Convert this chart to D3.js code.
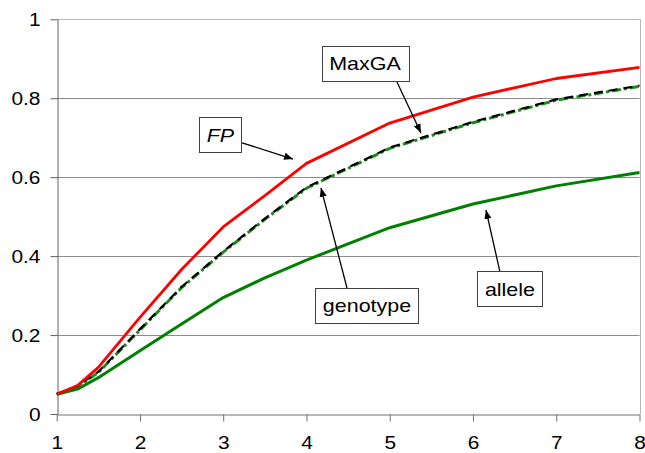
<!DOCTYPE html>
<html><head><meta charset="utf-8">
<script src="https://cdn.jsdelivr.net/npm/d3@7"></script>
<style>html,body{margin:0;padding:0;background:#fff;overflow:hidden}</style>
</head><body>
<svg id="c" width="645" height="453"></svg>
<script>
// ---- data ----
const xs       = [1, 1.25, 1.5, 2, 2.5, 3, 3.5, 4, 5, 6, 7, 8];
const fp       = [0.05, 0.072, 0.118, 0.245, 0.366, 0.474, 0.553, 0.635, 0.737, 0.803, 0.85, 0.878];
const maxga    = [0.05, 0.071, 0.107, 0.215, 0.322, 0.412, 0.495, 0.574, 0.675, 0.740, 0.797, 0.832];
const genotype = [0.05, 0.070, 0.105, 0.213, 0.320, 0.410, 0.493, 0.572, 0.673, 0.738, 0.795, 0.830];
const allele   = [0.05, 0.063, 0.092, 0.160, 0.228, 0.295, 0.345, 0.390, 0.472, 0.532, 0.578, 0.612];
const xTicks = [1, 2, 3, 4, 5, 6, 7, 8];
const yTicks = [0, 0.2, 0.4, 0.6, 0.8, 1];
// annotations: label, box centre (data), arrow tail (data), arrow tip (data)
const annLabels = ["FP", "MaxGA", "genotype", "allele"];
const annBox    = [[2.967, 0.708], [4.703, 0.889], [4.727, 0.275], [6.444, 0.317]];
const annTail   = [[3.226, 0.687], [5.087, 0.841], [4.487, 0.319], [6.324, 0.360]];
const annTip    = [[3.838, 0.646], [5.375, 0.712], [4.174, 0.573], [6.156, 0.517]];

// ---- chart ----
const svg = d3.select("#c");
const x = d3.scaleLinear().domain([1, 8]).range([56.7, 639.5]);
const y = d3.scaleLinear().domain([0, 1]).range([414, 19.3]);
const FONT = "'Liberation Sans', Arial, sans-serif";
const SX = 1.13; // horizontal stretch of the reference text

// grid lines
svg.append("g").selectAll("line").data(yTicks.filter(d => d > 0)).join("line")
  .attr("x1", x(1)).attr("x2", x(8))
  .attr("y1", d => Math.round(y(d)) + 0.5).attr("y2", d => Math.round(y(d)) + 0.5)
  .attr("stroke", d => d === 1 ? "#b8b8b8" : "#8c8c8c").attr("stroke-width", 1);
// right border
svg.append("line").attr("x1", Math.round(x(8)) + 0.5).attr("x2", Math.round(x(8)) + 0.5)
  .attr("y1", y(1)).attr("y2", y(0)).attr("stroke", "#b8b8b8");

// axes
const xAxis = d3.axisBottom(x).tickValues(xTicks).tickSize(7).tickSizeOuter(0).tickFormat(d3.format("d"));
const gx = svg.append("g").attr("transform", `translate(0,${Math.round(y(0)) + 0.5})`).call(xAxis);
gx.select(".domain").attr("stroke", "#707070");
gx.selectAll(".tick line").attr("stroke", "#707070");
gx.selectAll(".tick text").attr("font-family", FONT).attr("font-size", 18.5).attr("fill", "#000")
  .attr("y", 0).attr("dy", 0)
  .attr("transform", "translate(0,34.5) scale(" + SX + ",1)");

const yAxis = d3.axisLeft(y).tickValues(yTicks).tickSize(7).tickSizeOuter(0)
  .tickFormat(d => d === 0 ? "0" : d === 1 ? "1" : d3.format(".1f")(d));
const gy = svg.append("g").attr("transform", `translate(${Math.round(x(1)) + 0.5},0)`).call(yAxis);
gy.select(".domain").attr("stroke", "#606060");
gy.selectAll(".tick line").attr("stroke", "#606060");
gy.selectAll(".tick text").attr("font-family", FONT).attr("font-size", 18.5).attr("fill", "#000")
  .attr("x", 0).attr("dy", 0)
  .attr("transform", "translate(-17,6) scale(" + SX + ",1)");

// lines
const mk = vals => xs.map((v, i) => [v, vals[i]]);
const line = d3.line().x(d => x(d[0])).y(d => y(d[1]));
svg.append("path").datum(mk(allele)).attr("d", line).attr("fill", "none")
  .attr("stroke", "#008000").attr("stroke-width", 3).attr("stroke-linejoin", "round");
svg.append("path").datum(mk(genotype)).attr("d", line).attr("fill", "none")
  .attr("stroke", "#1e8a1e").attr("stroke-width", 3).attr("stroke-dasharray", "9,3,3,3");
svg.append("path").datum(mk(maxga)).attr("d", line).attr("fill", "none")
  .attr("stroke", "#000").attr("stroke-width", 2.2).attr("stroke-dasharray", "9,6");
svg.append("path").datum(mk(fp)).attr("d", line).attr("fill", "none")
  .attr("stroke", "#ff0000").attr("stroke-width", 2.8).attr("stroke-linejoin", "round");

// annotations
const defs = svg.append("defs");
defs.append("marker").attr("id", "ah").attr("viewBox", "0 0 10 10").attr("refX", 10).attr("refY", 5)
  .attr("markerWidth", 9).attr("markerHeight", 9).attr("markerUnits", "userSpaceOnUse").attr("orient", "auto")
  .append("path").attr("d", "M0,1 L10,5 L0,9 Z").attr("fill", "#000");

annLabels.forEach((lab, i) => {
  const g = svg.append("g");
  g.append("line")
    .attr("x1", x(annTail[i][0])).attr("y1", y(annTail[i][1]))
    .attr("x2", x(annTip[i][0])).attr("y2", y(annTip[i][1]))
    .attr("stroke", "#000").attr("stroke-width", 1.3).attr("marker-end", "url(#ah)");
  const cx = x(annBox[i][0]), cy = y(annBox[i][1]);
  const t = g.append("text").text(lab)
    .attr("font-family", FONT).attr("font-size", 19).attr("fill", "#000")
    .attr("font-style", lab === "FP" ? "italic" : "normal")
    .attr("text-anchor", "middle")
    .attr("transform", `translate(${cx},${cy + 7}) scale(${SX},1)`);
  const w = t.node().getComputedTextLength() * SX;
  g.insert("rect", "text")
    .attr("x", Math.round(cx - w / 2 - 7.5) + 0.5).attr("y", Math.round(cy - 17.5) + 0.5)
    .attr("width", Math.round(w + 15)).attr("height", 35)
    .attr("fill", "#fff").attr("stroke", "#404040").attr("stroke-width", 1);
});
</script>
</body></html>
